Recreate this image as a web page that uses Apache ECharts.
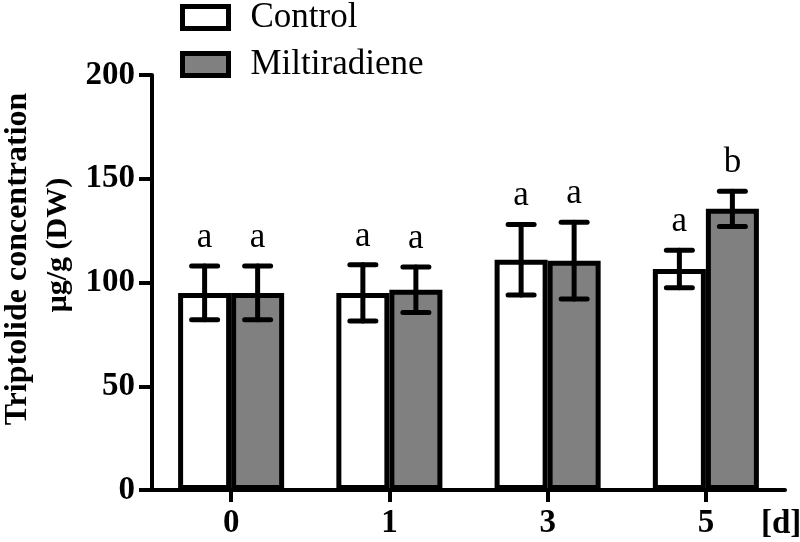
<!DOCTYPE html>
<html>
<head>
<meta charset="utf-8">
<script src="https://cdn.jsdelivr.net/npm/echarts@6/dist/echarts.min.js"></script>
<style>html,body{margin:0;padding:0;background:#fff}#c{width:800px;height:542px}</style>
</head>
<body>
<div id="c"></div>
<script>
const categories = ['0', '1', '3', '5'];
const seriesNames = ['Control', 'Miltiradiene'];
const controlMean = [95, 95, 111, 106.5];
const controlErr = [13, 13.5, 17, 9];
const miltMean = [95, 96.5, 110.5, 135.5];
const miltErr = [13, 11, 18.5, 8.5];
const controlLetters = ['a', 'a', 'a', 'a'];
const miltLetters = ['a', 'a', 'a', 'b'];
const yTicks = [0, 50, 100, 150, 200];

const SERIF = 'Liberation Serif';
const GAP = 0.33;

function errData(means, errs, letters) {
  return means.map((m, i) => [i, m, m - errs[i], m + errs[i], letters[i]]);
}

function makeErr(sign) {
  return function (params, api) {
    const idx = api.value(0);
    const lo = api.coord([idx, api.value(2)]);
    const hi = api.coord([idx, api.value(3)]);
    const band = api.size([1, 0])[0];
    const bw = band * (1 - GAP) / 2;
    const x = lo[0] + sign * bw / 2;
    const cw = 13;
    const ls = { stroke: '#000', lineWidth: 5, lineCap: 'round' };
    return {
      type: 'group',
      children: [
        { type: 'line', shape: { x1: x, y1: lo[1], x2: x, y2: hi[1] }, style: ls },
        { type: 'line', shape: { x1: x - cw, y1: lo[1], x2: x + cw, y2: lo[1] }, style: ls },
        { type: 'line', shape: { x1: x - cw, y1: hi[1], x2: x + cw, y2: hi[1] }, style: ls },
        { type: 'text', style: { text: api.value(4), x: x, y: hi[1] - 11, align: 'center', verticalAlign: 'bottom', fontSize: 35, fontFamily: SERIF, fill: '#000' } }
      ]
    };
  };
}

const chart = echarts.init(document.getElementById('c'));
chart.setOption({
  animation: false,
  backgroundColor: '#fff',
  textStyle: { fontFamily: SERIF },
  grid: { left: 152, right: 15, top: 75, bottom: 52, containLabel: false },
  legend: {
    orient: 'vertical',
    left: 180,
    top: 0,
    padding: 0,
    itemGap: 12,
    itemWidth: 46,
    itemHeight: 22,
    icon: 'rect',
    data: seriesNames,
    formatter: name => '{t|' + name + '}',
    textStyle: {
      color: '#000',
      rich: { t: { fontSize: 35, fontFamily: SERIF, fontWeight: 'normal', color: '#000', lineHeight: 36, padding: [0, 0, 0, 17] } }
    },
    itemStyle: { borderColor: '#000', borderWidth: 5 }
  },
  xAxis: {
    type: 'category',
    data: categories,
    axisLine: { show: true, lineStyle: { color: '#000', width: 4 } },
    axisTick: { show: true, alignWithLabel: true, length: 12, lineStyle: { color: '#000', width: 4 } },
    axisLabel: { color: '#000', fontSize: 33, fontWeight: 'bold', fontFamily: SERIF, margin: 17 },
    splitLine: { show: false }
  },
  yAxis: {
    type: 'value',
    min: 0, max: 200, interval: 50,
    axisLine: { show: true, lineStyle: { color: '#000', width: 4 } },
    axisTick: { show: true, length: 13, lineStyle: { color: '#000', width: 4 } },
    axisLabel: { color: '#000', fontSize: 33, fontWeight: 'bold', fontFamily: SERIF, margin: 17,
      formatter: v => yTicks.indexOf(v) >= 0 ? String(v) : '' },
    splitLine: { show: false }
  },
  graphic: [
    { type: 'text', x: 18, y: 259, rotation: Math.PI / 2,
      style: { text: 'Triptolide concentration', align: 'center', verticalAlign: 'middle', fontSize: 32, fontWeight: 'bold', fontFamily: SERIF, fill: '#000' } },
    { type: 'text', x: 58, y: 245, rotation: Math.PI / 2,
      style: { text: 'μg/g (DW)', align: 'center', verticalAlign: 'middle', fontSize: 30, fontWeight: 'bold', fontFamily: SERIF, fill: '#000' } },
    { type: 'text', x: 761, y: 524,
      style: { text: '[d]', align: 'left', verticalAlign: 'middle', fontSize: 33, fontWeight: 'bold', fontFamily: SERIF, fill: '#000' } }
  ],
  series: [
    { name: 'Control', type: 'bar', data: controlMean, barGap: '0%', barCategoryGap: (GAP * 100) + '%',
      itemStyle: { color: '#ffffff', borderColor: '#000', borderWidth: 5 } },
    { name: 'Miltiradiene', type: 'bar', data: miltMean, barGap: '0%', barCategoryGap: (GAP * 100) + '%',
      itemStyle: { color: '#808080', borderColor: '#000', borderWidth: 5 } },
    { type: 'custom', z: 5, renderItem: makeErr(-1), data: errData(controlMean, controlErr, controlLetters), encode: { x: 0, y: [1, 2, 3] }, silent: true },
    { type: 'custom', z: 5, renderItem: makeErr(1), data: errData(miltMean, miltErr, miltLetters), encode: { x: 0, y: [1, 2, 3] }, silent: true }
  ]
});
</script>
</body>
</html>
